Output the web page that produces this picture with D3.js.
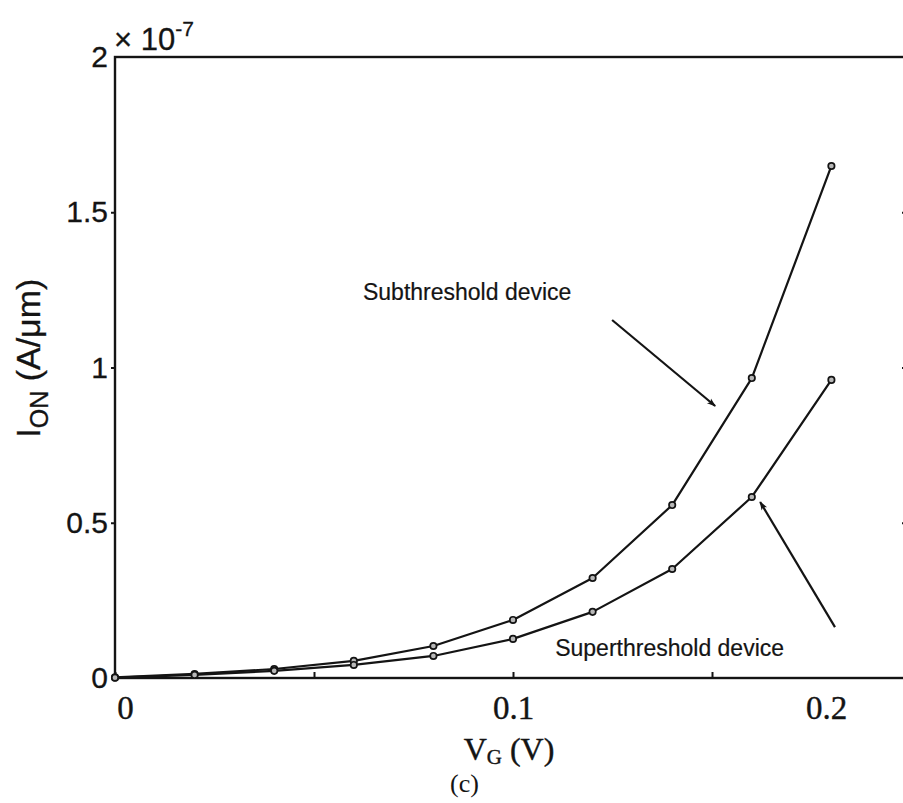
<!DOCTYPE html>
<html>
<head>
<meta charset="utf-8">
<script src="https://cdn.jsdelivr.net/npm/d3@7"></script>
<style>
  html, body { margin: 0; padding: 0; background: #fff; }
  svg { display: block; }
  .sans { font-family: Arial, "Liberation Sans", Helvetica, sans-serif; }
  .serif { font-family: "Times New Roman", "Liberation Serif", Times, serif; }
</style>
</head>
<body>
<svg id="chart" width="903" height="803"></svg>
<script>
// Gate voltage sweep (V)
const vg = [0, 0.02, 0.04, 0.06, 0.08, 0.10, 0.12, 0.14, 0.16, 0.18];

// On-current per micron of width (A/um)
const subthresholdIon   = [0.02e-8, 0.13e-8, 0.29e-8, 0.55e-8, 1.03e-8, 1.87e-8, 3.22e-8, 5.57e-8, 9.66e-8, 16.49e-8];
const superthresholdIon = [0.01e-8, 0.10e-8, 0.23e-8, 0.42e-8, 0.71e-8, 1.26e-8, 2.13e-8, 3.51e-8, 5.83e-8, 9.60e-8];

// Axis ticks and labels
const xTicks = [0, 0.05, 0.1, 0.15, 0.2];
const xTickLabels = { 0: "0", 0.1: "0.1", 0.2: "0.2" };
const yTicks = [0, 0.5e-7, 1e-7, 1.5e-7, 2e-7];
const yTickLabels = ["0", "0.5", "1", "1.5", "2"];

// Annotations: text anchor and arrow (tail -> head) in data units
const annotations = [
  { text: "Subthreshold device",   tx: 0.0623, ty: 12.17e-8, from: [0.1249, 11.53e-8], to: [0.1508, 8.76e-8] },
  { text: "Superthreshold device", tx: 0.1106, ty: 0.71e-8,  from: [0.1809, 1.64e-8],  to: [0.1621, 5.67e-8] }
];

const W = 903, H = 803;
const margin = { top: 57, left: 115, right: -8, bottom: 125 };
const plotW = W - margin.left - margin.right;
const plotH = H - margin.top - margin.bottom;

const svg = d3.select("#chart");

const x = d3.scaleLinear().domain([0, 0.2]).range([margin.left, margin.left + plotW]);
const y = d3.scaleLinear().domain([0, 2e-7]).range([margin.top + plotH, margin.top]);

const ink = "#141414";

// Arrowhead
svg.append("defs").append("marker")
  .attr("id", "arrowhead")
  .attr("viewBox", "0 0 10 10")
  .attr("refX", 9).attr("refY", 5)
  .attr("markerWidth", 9).attr("markerHeight", 9)
  .attr("markerUnits", "userSpaceOnUse")
  .attr("orient", "auto")
  .append("path")
  .attr("d", "M0,1.5 L10,5 L0,8.5 L2.5,5 Z")
  .attr("fill", ink);

// Plot frame (right edge falls just outside the page)
svg.append("rect")
  .attr("x", x(0)).attr("y", y(2e-7))
  .attr("width", x(0.2) - x(0)).attr("height", y(0) - y(2e-7))
  .attr("fill", "none").attr("stroke", ink).attr("stroke-width", 2.4);

// X axis: ticks point into the plot
const xAxis = d3.axisBottom(x)
  .tickValues(xTicks)
  .tickSizeInner(-6).tickSizeOuter(0)
  .tickPadding(18)
  .tickFormat(d => xTickLabels[d] !== undefined ? xTickLabels[d] : "");
const gx = svg.append("g")
  .attr("transform", `translate(0,${y(0)})`)
  .call(xAxis);
gx.select(".domain").remove();
gx.selectAll(".tick line").attr("stroke", ink).attr("stroke-width", 2);
gx.selectAll(".tick text")
  .attr("class", "serif")
  .attr("font-size", 33)
  .attr("fill", ink)
  .attr("stroke", ink).attr("stroke-width", 0.4)
  .attr("dy", "0.71em");
// Keep the last label inside the visible page when its tick lies on the cut edge
gx.selectAll(".tick").each(function (d) {
  const px = x(d);
  if (px > W - 60) {
    d3.select(this).select("text").attr("x", (W - 77) - px);
  }
});
gx.selectAll(".tick").filter(d => d === 0).select("text").attr("x", 10);

// Y axis
const yAxis = d3.axisLeft(y)
  .tickValues(yTicks)
  .tickSizeInner(4).tickSizeOuter(0)
  .tickPadding(3)
  .tickFormat((d, i) => yTickLabels[i]);
const gy = svg.append("g")
  .attr("transform", `translate(${x(0)},0)`)
  .call(yAxis);
gy.select(".domain").remove();
gy.selectAll(".tick line").attr("stroke", ink).attr("stroke-width", 2);
gy.selectAll(".tick text")
  .attr("class", "sans")
  .attr("font-size", 30)
  .attr("fill", ink)
  .attr("stroke", ink).attr("stroke-width", 0.3);
gy.selectAll(".tick").filter(d => d === 0 || d === 2e-7).select("line").remove();

// Right-side ticks (inward)
const gyr = svg.append("g")
  .attr("transform", `translate(${x(0.2)},0)`)
  .call(d3.axisLeft(y).tickValues([0.5e-7, 1e-7, 1.5e-7]).tickSizeInner(9).tickSizeOuter(0).tickFormat(""));
gyr.select(".domain").remove();
gyr.selectAll(".tick line").attr("stroke", ink).attr("stroke-width", 2).attr("x2", -9);

// Exponent label
const expo = svg.append("text")
  .attr("class", "sans")
  .attr("x", x(0) - 1).attr("y", y(2e-7) - 7)
  .attr("font-size", 31).attr("fill", ink)
  .attr("stroke", ink).attr("stroke-width", 0.3);
expo.append("tspan").text("\u00d7 10");
expo.append("tspan").attr("font-size", 21).attr("dy", -14).text("-7");

// Axis titles
const yTitle = svg.append("text")
  .attr("class", "sans")
  .attr("transform", `translate(40,${y(1.03e-7)}) rotate(-90)`)
  .attr("text-anchor", "middle")
  .attr("font-size", 34).attr("fill", ink)
  .attr("stroke", ink).attr("stroke-width", 0.3);
yTitle.append("tspan").text("I");
yTitle.append("tspan").attr("font-size", 25).attr("dy", 8).text("ON");
yTitle.append("tspan").attr("dy", -8).text(" (A/\u03bcm)");

const xTitle = svg.append("text")
  .attr("class", "serif")
  .attr("x", x(0.099)).attr("y", 760)
  .attr("text-anchor", "middle")
  .attr("font-size", 32).attr("fill", ink)
  .attr("stroke", ink).attr("stroke-width", 0.4);
xTitle.append("tspan").text("V");
xTitle.append("tspan").attr("font-size", 21).attr("dy", 4).text("G");
xTitle.append("tspan").attr("dy", -4).text(" (V)");

svg.append("text")
  .attr("class", "serif")
  .attr("x", x(0.0878)).attr("y", 792)
  .attr("text-anchor", "middle")
  .attr("font-size", 26).attr("fill", ink)
  .text("(c)");

// Curves
const series = [
  { name: "Subthreshold device", values: subthresholdIon },
  { name: "Superthreshold device", values: superthresholdIon }
];
const line = d3.line().x(d => x(d[0])).y(d => y(d[1]));

const gSeries = svg.append("g");
series.forEach(s => {
  const pts = vg.map((v, i) => [v, s.values[i]]);
  gSeries.append("path")
    .datum(pts)
    .attr("d", line)
    .attr("fill", "none")
    .attr("stroke", ink)
    .attr("stroke-width", 2.2)
    .attr("stroke-linejoin", "round");
  gSeries.selectAll(null)
    .data(pts)
    .enter().append("circle")
    .attr("cx", d => x(d[0]))
    .attr("cy", d => y(d[1]))
    .attr("r", 3.2)
    .attr("fill", "#b8b8b8")
    .attr("stroke", ink)
    .attr("stroke-width", 1.7);
});

// Annotations
annotations.forEach(a => {
  svg.append("text")
    .attr("class", "sans")
    .attr("x", x(a.tx)).attr("y", y(a.ty))
    .attr("font-size", 23).attr("fill", ink)
    .attr("stroke", ink).attr("stroke-width", 0.2)
    .text(a.text);
  svg.append("line")
    .attr("x1", x(a.from[0])).attr("y1", y(a.from[1]))
    .attr("x2", x(a.to[0])).attr("y2", y(a.to[1]))
    .attr("stroke", ink).attr("stroke-width", 2.2)
    .attr("marker-end", "url(#arrowhead)");
});
</script>
</body>
</html>
